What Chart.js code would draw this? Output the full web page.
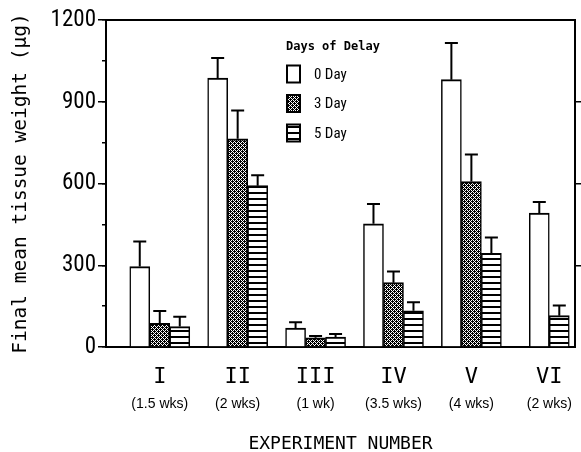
<!DOCTYPE html>
<html>
<head>
<meta charset="utf-8">
<script src="https://cdn.jsdelivr.net/npm/chart.js@4"></script>
<style>
html,body{margin:0;padding:0;background:#ffffff;overflow:hidden}
canvas{display:block}
</style>
</head>
<body>
<canvas id="c" width="581" height="452" style="width:581px;height:452px"></canvas>
<script>
// ---------- data ----------
const categories = ['I', 'II', 'III', 'IV', 'V', 'VI'];
const durations = ['(1.5 wks)', '(2 wks)', '(1 wk)', '(3.5 wks)', '(4 wks)', '(2 wks)'];
const seriesNames = ['0 Day', '3 Day', '5 Day'];
const day0 = [295, 987, 69, 452, 981, 491];
const day0Err = [92, 74, 22, 73, 135, 41];
const day3 = [87, 764, 34, 236, 607, null];
const day3Err = [45, 104, 6, 41, 99, null];
const day5 = [75, 592, 36, 133, 344, 115];
const day5Err = [36, 38, 12, 31, 58, 37];
const yTickValues = [0, 300, 600, 900, 1200];
const yTitle = 'Final mean tissue weight (\u00b5g)';
const xTitle = 'EXPERIMENT NUMBER';
const legendTitle = 'Days of Delay';

// ---------- styles ----------
const NARROW = '"Liberation Sans Narrow", "Arial Narrow", "Roboto Condensed", sans-serif';
const MONO = '"DejaVu Sans Mono", monospace';
const X_MIN = -0.69, X_MAX = 5.33;

function makePattern(rows) {
  const c = document.createElement('canvas');
  c.width = rows[0].length; c.height = rows.length;
  const g = c.getContext('2d');
  for (let r = 0; r < rows.length; r++) {
    for (let k = 0; k < rows[r].length; k++) {
      g.fillStyle = rows[r][k] === '1' ? '#000000' : '#ffffff';
      g.fillRect(k, r, 1, 1);
    }
  }
  return document.getElementById('c').getContext('2d').createPattern(c, 'repeat');
}
const stipple = makePattern(['1010', '1101', '1010', '0111']);
const stripes = makePattern(['1111', '1111', '0000', '0000', '0000', '0000']);

function toPoints(arr) { return arr.map((v, i) => ({ x: i, y: v })); }

const barStyle = {
  borderColor: '#000000',
  borderWidth: { top: 2, left: 1.5, right: 1.5, bottom: 0 },
  borderSkipped: false,
  barThickness: 20,
  skipNull: true
};

const datasets = [
  Object.assign({ label: seriesNames[0], data: toPoints(day0), errors: day0Err, backgroundColor: '#ffffff' }, barStyle),
  Object.assign({ label: seriesNames[1], data: toPoints(day3), errors: day3Err, backgroundColor: stipple }, barStyle),
  Object.assign({ label: seriesNames[2], data: toPoints(day5), errors: day5Err, backgroundColor: stripes }, barStyle)
];

const errorBarPlugin = {
  id: 'errorBars',
  afterDatasetsDraw(chart) {
    const ctx = chart.ctx;
    const yScale = chart.scales.y;
    chart.data.datasets.forEach((ds, di) => {
      const meta = chart.getDatasetMeta(di);
      meta.data.forEach((bar, i) => {
        const v = ds.data[i].y, e = ds.errors[i];
        if (v == null || e == null) return;
        const top = yScale.getPixelForValue(v + e);
        ctx.save();
        ctx.strokeStyle = '#000000';
        ctx.lineWidth = 2;
        ctx.beginPath();
        ctx.moveTo(bar.x, bar.y);
        ctx.lineTo(bar.x, top);
        ctx.moveTo(bar.x - 6.5, top);
        ctx.lineTo(bar.x + 6.5, top);
        ctx.stroke();
        ctx.restore();
      });
    });
  }
};

const legendPlugin = {
  id: 'daysLegend',
  afterDraw(chart) {
    const ctx = chart.ctx;
    ctx.save();
    ctx.fillStyle = '#000000';
    ctx.textAlign = 'left';
    ctx.textBaseline = 'middle';
    ctx.font = 'bold 12px ' + MONO;
    ctx.fillText(legendTitle, 286, 47);
    chart.data.datasets.forEach((ds, i) => {
      const cy = 74 + i * 29.5;
      ctx.fillStyle = ds.backgroundColor;
      ctx.fillRect(287, cy - 8.5, 13, 17);
      ctx.strokeStyle = '#000000';
      ctx.lineWidth = 2;
      ctx.strokeRect(287, cy - 8.5, 13, 17);
      ctx.fillStyle = '#000000';
      ctx.font = '15px ' + NARROW;
      ctx.fillText(ds.label, 314, cy + 1);
    });
    ctx.restore();
  }
};

const categoryTicks = s => { s.ticks = categories.map((_, i) => ({ value: i })); };

new Chart(document.getElementById('c'), {
  type: 'bar',
  data: { datasets },
  options: {
    responsive: false,
    animation: false,
    devicePixelRatio: 1,
    layout: { padding: { top: 20, left: 0, right: 0, bottom: 0 } },
    plugins: { legend: { display: false }, tooltip: { enabled: false } },
    scales: {
      x: {
        type: 'linear', position: 'bottom', weight: 0,
        min: X_MIN, max: X_MAX, offset: false,
        afterBuildTicks: categoryTicks,
        ticks: { autoSkip: false, maxRotation: 0, padding: 17, color: '#000000',
                 font: { family: MONO, size: 22 }, callback: v => categories[v] },
        grid: { drawOnChartArea: false, drawTicks: false, offset: false },
        border: { color: '#000000', width: 2 },
        afterFit: s => { s.height = 43; }
      },
      xWeeks: {
        type: 'linear', position: 'bottom', weight: 1,
        min: X_MIN, max: X_MAX, offset: false,
        afterBuildTicks: categoryTicks,
        ticks: { autoSkip: false, maxRotation: 0, padding: 5.6, color: '#000000',
                 font: { family: '"Liberation Sans", Arial, sans-serif', size: 14 }, callback: v => durations[v] },
        grid: { display: false, drawTicks: false },
        border: { display: false },
        title: { display: true, text: xTitle, color: '#000000',
                 font: { family: MONO, size: 18, lineHeight: 1 }, padding: { top: 0, bottom: -1 } },
        afterFit: s => { s.height = 62; }
      },
      xTop: {
        type: 'linear', position: 'top',
        min: X_MIN, max: X_MAX,
        ticks: { display: false },
        grid: { drawOnChartArea: false, drawTicks: false },
        border: { color: '#000000', width: 2 },
        afterFit: s => { s.height = 0; }
      },
      y: {
        type: 'linear', position: 'left', weight: 0,
        min: 0, max: 1200,
        afterBuildTicks: s => { s.ticks = yTickValues.map(v => ({ value: v })); },
        ticks: { color: '#000000', padding: 2, font: { family: NARROW, size: 23 },
                 callback: v => String(v) },
        grid: { drawOnChartArea: false, tickLength: 8, color: '#000000', lineWidth: 1.5 },
        border: { color: '#000000', width: 2 },
        title: { display: true, text: yTitle, color: '#000000',
                 font: { family: MONO, size: 19.5 }, padding: { top: 9.7, bottom: 0 } },
        afterFit: s => { s.width = 106; }
      },
      yMinor: {
        type: 'linear', position: 'left', weight: -1,
        min: 0, max: 1200,
        ticks: { display: false, stepSize: 150 },
        grid: { drawOnChartArea: false, tickLength: 4, color: '#000000', lineWidth: 1.5 },
        border: { display: false },
        afterFit: s => { s.width = 0; }
      },
      yRight: {
        type: 'linear', position: 'right',
        min: 0, max: 1200,
        ticks: { display: false, stepSize: 300 },
        grid: { drawOnChartArea: false, tickLength: 6, lineWidth: 1.5,
                color: c => (c.tick && (c.tick.value === 0 || c.tick.value === 1200)) ? 'rgba(0,0,0,0)' : '#000000' },
        border: { color: '#000000', width: 2 },
        afterFit: s => { s.width = 6; }
      }
    }
  },
  plugins: [errorBarPlugin, legendPlugin]
});
</script>
</body>
</html>
